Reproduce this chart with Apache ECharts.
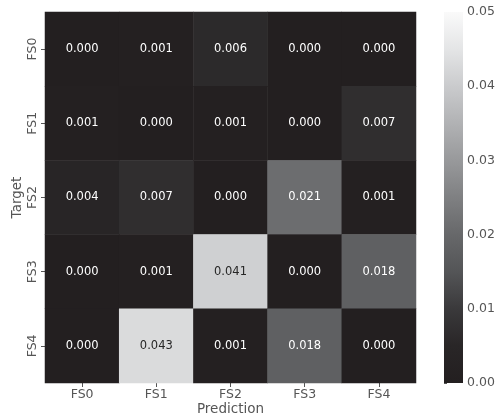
<!DOCTYPE html>
<html>
<head>
<meta charset="utf-8">
<script src="https://cdn.jsdelivr.net/npm/echarts@6/dist/echarts.min.js"></script>
<style>
html,body{margin:0;padding:0;background:#fff;}
#chart{width:497px;height:419px;}
</style>
</head>
<body>
<div id="chart"></div>
<script>
var predictionLabels = ['FS0', 'FS1', 'FS2', 'FS3', 'FS4'];
var targetLabels = ['FS0', 'FS1', 'FS2', 'FS3', 'FS4'];
var rowFS0 = [0.000, 0.001, 0.006, 0.000, 0.000];
var rowFS1 = [0.001, 0.000, 0.001, 0.000, 0.007];
var rowFS2 = [0.004, 0.007, 0.000, 0.021, 0.001];
var rowFS3 = [0.000, 0.001, 0.041, 0.000, 0.018];
var rowFS4 = [0.000, 0.043, 0.001, 0.018, 0.000];
var colorbarMin = 0;
var colorbarMax = 0.05;
var colorbarStep = 0.01;
var rampColors = ['#231f20', '#292627', '#3a393b', '#545557', '#67686a', '#7f8082',
                  '#98999b', '#b1b2b4', '#cacbcd', '#e4e5e6', '#fafafa'];

var rows = [rowFS0, rowFS1, rowFS2, rowFS3, rowFS4];
var data = [];
rows.forEach(function (row, r) {
  row.forEach(function (v, c) {
    data.push({
      value: [c, r, v],
      label: { color: v > 0.03 ? '#262626' : '#ffffff' }
    });
  });
});

var gray = '#555555';
var font = 'DejaVu Sans';
var chart = echarts.init(document.getElementById('chart'), null, { renderer: 'canvas' });
chart.setOption({
  animation: false,
  backgroundColor: '#ffffff',
  textStyle: { fontFamily: font },
  grid: [
    { left: 45, top: 12, width: 371, height: 371, outerBoundsMode: 'none', containLabel: false },
    { left: 444, top: 12, width: 19, height: 371, outerBoundsMode: 'none', containLabel: false }
  ],
  xAxis: [
    {
      gridIndex: 0, type: 'category', data: predictionLabels,
      axisLine: { show: false },
      axisTick: { show: true, alignWithLabel: true, length: 4, lineStyle: { color: gray } },
      axisLabel: { color: gray, fontSize: 12.5, fontFamily: font, margin: 5 },
      splitLine: { show: false },
      name: 'Prediction', nameLocation: 'middle', nameGap: 19, nameMoveOverlap: false,
      nameTextStyle: { color: gray, fontSize: 13.5, fontFamily: font }
    },
    { gridIndex: 1, type: 'value', show: false, min: 0, max: 1,
      axisLine: { show: false }, axisTick: { show: false }, axisLabel: { show: false }, splitLine: { show: false } }
  ],
  yAxis: [
    {
      gridIndex: 0, type: 'category', data: targetLabels, inverse: true,
      axisLine: { show: false },
      axisTick: { show: true, alignWithLabel: true, length: 4, lineStyle: { color: gray } },
      axisLabel: { color: gray, fontSize: 12.5, fontFamily: font, rotate: 90, margin: 6 },
      splitLine: { show: false },
      name: 'Target', nameLocation: 'middle', nameGap: 21, nameRotate: 90, nameMoveOverlap: false,
      nameTextStyle: { color: gray, fontSize: 13.5, fontFamily: font }
    },
    {
      gridIndex: 1, type: 'value', position: 'right',
      min: colorbarMin, max: colorbarMax, interval: colorbarStep,
      axisLine: { show: false },
      axisTick: { show: true, length: 3, lineStyle: { color: gray } },
      axisLabel: { color: gray, fontSize: 12.5, fontFamily: font, margin: 4,
        formatter: function (v) { return v.toFixed(2); } },
      splitLine: { show: false }
    }
  ],
  visualMap: {
    type: 'continuous',
    show: false,
    min: colorbarMin, max: colorbarMax,
    seriesIndex: 0,
    inRange: { color: rampColors }
  },
  series: [{
    type: 'heatmap',
    xAxisIndex: 0, yAxisIndex: 0,
    data: data,
    label: {
      show: true, fontSize: 11.5, fontFamily: font,
      formatter: function (p) { return p.value[2].toFixed(3); }
    },
    itemStyle: { borderWidth: 0 },
    emphasis: { disabled: true }
  }]
});

// colour bar drawn in the colorbar grid, positioned through its axes
var pTop = chart.convertToPixel({ xAxisIndex: 1, yAxisIndex: 1 }, [0, colorbarMax]);
var pBot = chart.convertToPixel({ xAxisIndex: 1, yAxisIndex: 1 }, [1, colorbarMin]);
var stops = rampColors.map(function (c, i) {
  return { offset: 1 - i / (rampColors.length - 1), color: c };
}).reverse();
chart.setOption({
  graphic: [{
    type: 'rect', silent: true, z: 1,
    shape: { x: pTop[0], y: pTop[1], width: pBot[0] - pTop[0], height: pBot[1] - pTop[1] },
    style: { fill: new echarts.graphic.LinearGradient(0, 0, 0, 1, stops) }
  }]
});
</script>
</body>
</html>
